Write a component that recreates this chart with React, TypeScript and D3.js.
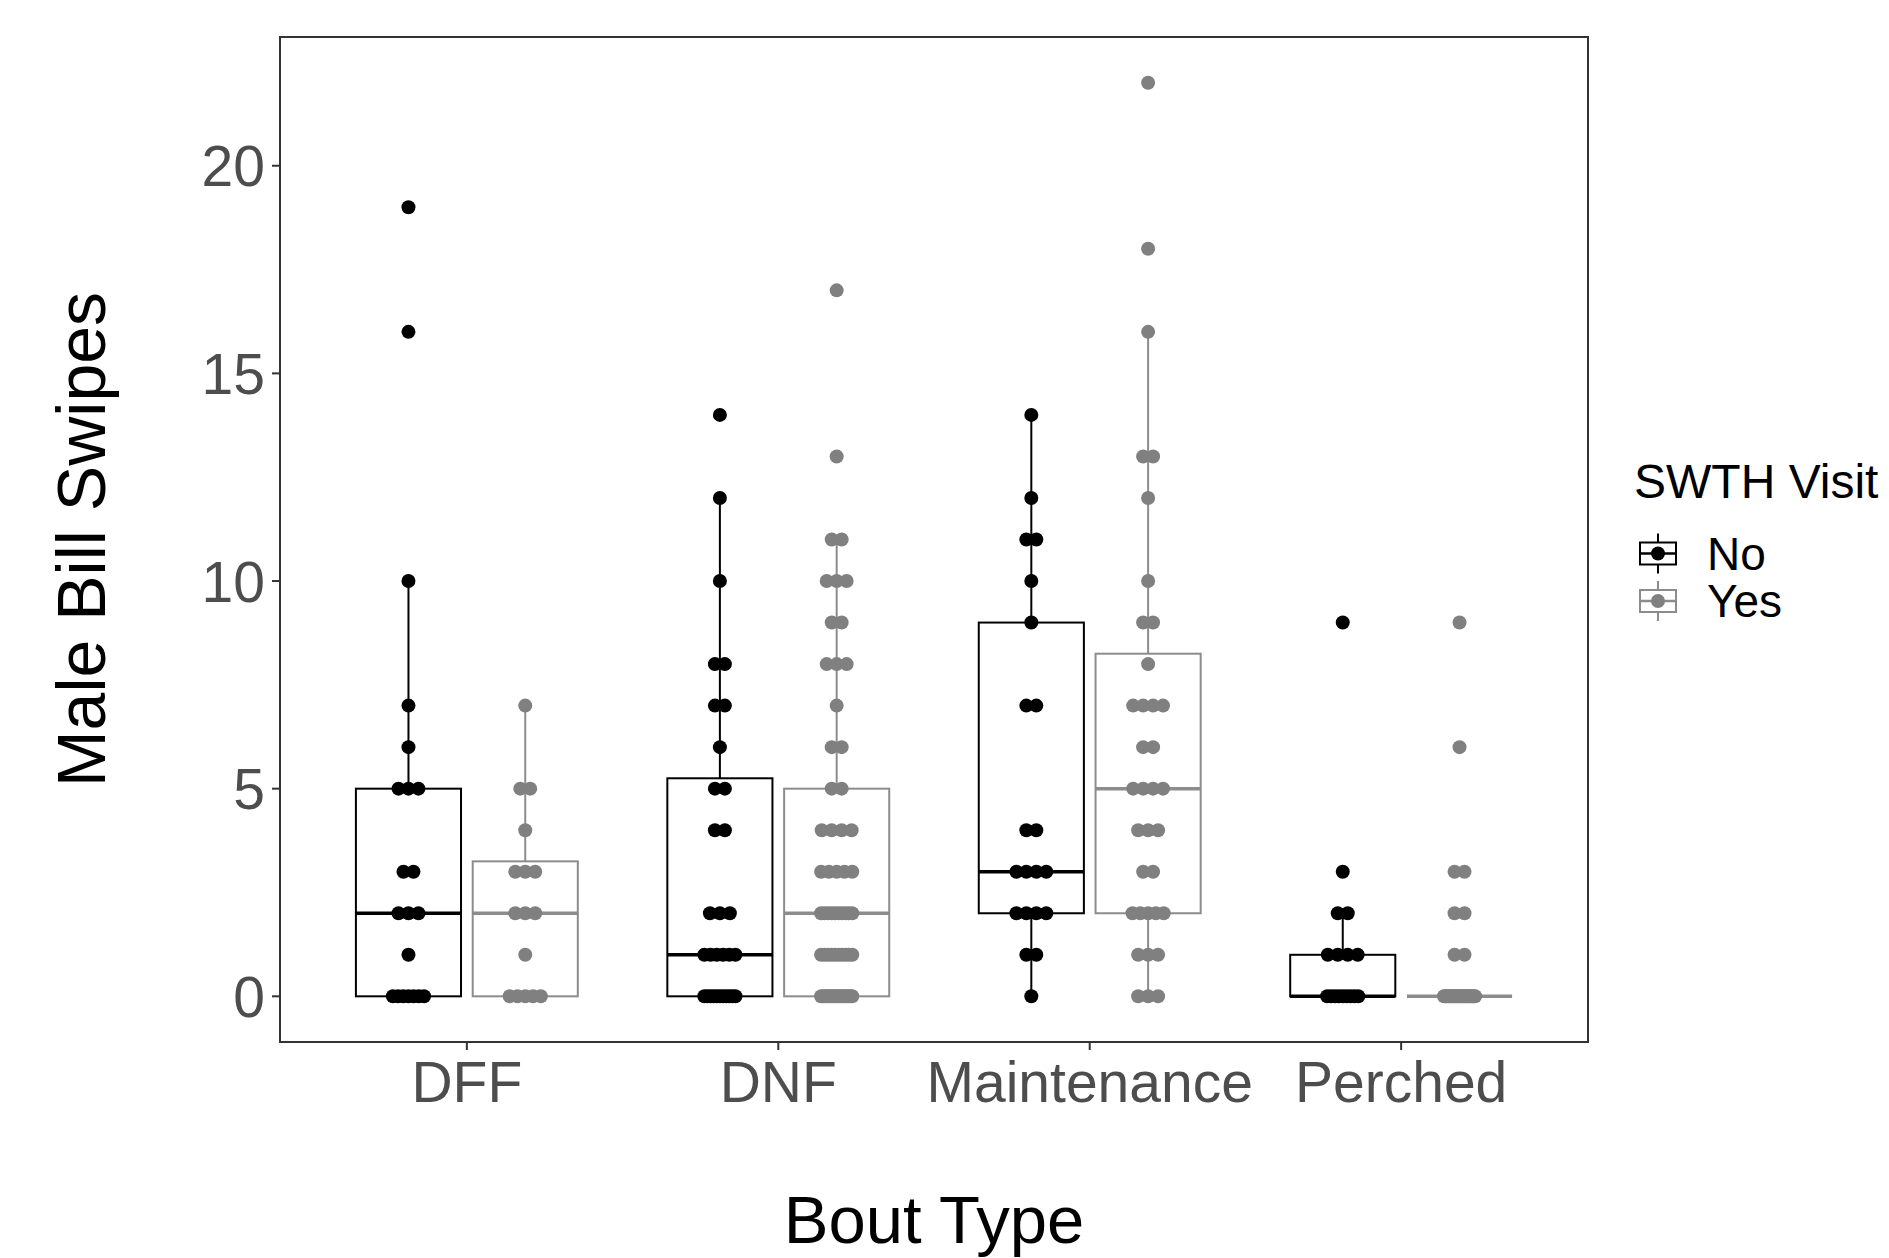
import React from "react";
import * as d3 from "d3";

// Male bill swipes per bout, split by whether a SWTH visited
const categories = ["DFF", "DNF", "Maintenance", "Perched"];
const visits = ["No", "Yes"];
const yTicks = [0, 5, 10, 15, 20];

const dffNo = [0, 0, 0, 0, 0, 0, 0, 1, 2, 2, 2, 3, 3, 5, 5, 5, 6, 7, 10, 16, 19];
const dffYes = [0, 0, 0, 0, 0, 1, 2, 2, 2, 3, 3, 3, 4, 5, 5, 7];
const dnfNo = [0, 0, 0, 0, 0, 0, 0, 0, 0, 0, 0, 1, 1, 1, 1, 1, 1, 2, 2, 2, 4, 4, 5, 5, 6, 7, 7, 8, 8, 10, 12, 14];
const dnfYes = [
  0, 0, 0, 0, 0, 0, 0, 0, 0, 0, 0, 0, 0, 0, 0, 0, 0, 0,
  1, 1, 1, 1, 1, 1, 1, 1, 1, 1,
  2, 2, 2, 2, 2, 2, 2, 2, 2, 2,
  3, 3, 3, 3, 3, 4, 4, 4, 4, 5, 5, 6, 6, 7, 8, 8, 8, 9, 9, 10, 10, 10, 11, 11, 13, 17,
];
const maintNo = [0, 1, 1, 2, 2, 2, 2, 3, 3, 3, 3, 4, 4, 7, 7, 9, 10, 11, 11, 12, 14];
const maintYes = [0, 0, 0, 1, 1, 1, 2, 2, 2, 2, 2, 3, 3, 4, 4, 4, 5, 5, 5, 5, 6, 6, 7, 7, 7, 7, 8, 9, 9, 10, 12, 13, 13, 16, 18, 22];
const perchNo = [0, 0, 0, 0, 0, 0, 0, 0, 0, 1, 1, 1, 1, 2, 2, 3, 9];
const perchYes = [
  0, 0, 0, 0, 0, 0, 0, 0, 0, 0, 0, 0, 0, 0, 0, 0, 0, 0, 0, 0, 0, 0, 0, 0, 0,
  1, 1, 2, 2, 3, 3, 6, 9,
];

const groupValues = [
  [dffNo, dffYes],
  [dnfNo, dnfYes],
  [maintNo, maintYes],
  [perchNo, perchYes],
];

const colors = ["#000000", "#808080"];
const boxColors = ["#000000", "#8c8c8c"];

const W = 1889;
const H = 1258;
const panel = { left: 280, right: 1588, top: 37, bottom: 1042 };
const font = "'Liberation Sans', Arial, sans-serif";

function boxStats(vals: number[]) {
  const s = [...vals].sort((a, b) => a - b);
  const q1 = d3.quantile(s, 0.25)!;
  const med = d3.quantile(s, 0.5)!;
  const q3 = d3.quantile(s, 0.75)!;
  const iqr = q3 - q1;
  const lo = d3.min(s.filter((v) => v >= q1 - 1.5 * iqr))!;
  const hi = d3.max(s.filter((v) => v <= q3 + 1.5 * iqr))!;
  return { q1, med, q3, lo, hi };
}

// spread repeated values sideways a little, like a light jitter
function spread(vals: number[]) {
  const counts = d3.rollup(vals, (v) => v.length, (d) => d);
  const seen = new Map<number, number>();
  return vals.map((v) => {
    const k = counts.get(v)!;
    const i = seen.get(v) || 0;
    seen.set(v, i + 1);
    if (k === 1) return 0;
    const s = Math.min(0.016 * (k - 1), 0.05);
    return -s + (2 * s * i) / (k - 1);
  });
}

export default function App() {
  const x = d3
    .scaleBand()
    .domain(categories)
    .range([panel.left, panel.right])
    .paddingInner(0)
    .paddingOuter(0.1);
  const step = x.step();
  const dodge = d3
    .scaleBand()
    .domain(visits)
    .range([-0.375 * step, 0.375 * step]);
  const boxW = dodge.bandwidth() * 0.9;

  const y = d3.scaleLinear().domain([-1.1, 23.1]).range([panel.bottom, panel.top]);

  const boxes: React.ReactNode[] = [];
  const points: React.ReactNode[] = [];

  categories.forEach((cat, ci) => {
    visits.forEach((vis, vi) => {
      const vals = groupValues[ci][vi];
      const cx = x(cat)! + step / 2 + dodge(vis)! + dodge.bandwidth() / 2;
      const st = boxStats(vals);
      const col = boxColors[vi];
      boxes.push(
        <g key={`b-${cat}-${vis}`} stroke={col} fill="none">
          <line x1={cx} x2={cx} y1={y(st.q3)} y2={y(st.hi)} strokeWidth={2} />
          <line x1={cx} x2={cx} y1={y(st.q1)} y2={y(st.lo)} strokeWidth={2} />
          <rect
            x={cx - boxW / 2}
            y={y(st.q3)}
            width={boxW}
            height={Math.max(0, y(st.q1) - y(st.q3))}
            fill="#ffffff"
            strokeWidth={2}
          />
          <line x1={cx - boxW / 2} x2={cx + boxW / 2} y1={y(st.med)} y2={y(st.med)} strokeWidth={3.5} />
        </g>
      );
      const offs = spread(vals);
      vals.forEach((v, i) => {
        points.push(
          <circle key={`p-${cat}-${vis}-${i}`} cx={cx + offs[i] * step} cy={y(v)} r={7} fill={colors[vi]} />
        );
      });
    });
  });

  return (
    <svg
      width={W}
      height={H}
      style={{ position: "absolute", left: 0, top: 0, background: "#ffffff" }}
      fontFamily={font}
    >
      <rect width={W} height={H} fill="#ffffff" />
      {boxes}
      {points}
      <rect
        x={panel.left}
        y={panel.top}
        width={panel.right - panel.left}
        height={panel.bottom - panel.top}
        fill="none"
        stroke="#333333"
        strokeWidth={2}
      />
      {/* y axis */}
      {yTicks.map((t) => (
        <g key={`yt-${t}`}>
          <line x1={panel.left - 8} x2={panel.left} y1={y(t)} y2={y(t)} stroke="#333333" strokeWidth={2} />
          <text x={panel.left - 15} y={y(t)} dy="0.36em" textAnchor="end" fontSize={57} fill="#4d4d4d">
            {t}
          </text>
        </g>
      ))}
      {/* x axis */}
      {categories.map((c) => {
        const cx = x(c)! + step / 2;
        return (
          <g key={`xt-${c}`}>
            <line x1={cx} x2={cx} y1={panel.bottom} y2={panel.bottom + 8} stroke="#333333" strokeWidth={2} />
            <text x={cx} y={panel.bottom + 60} textAnchor="middle" fontSize={57} fill="#4d4d4d">
              {c}
            </text>
          </g>
        );
      })}
      <text x={(panel.left + panel.right) / 2} y={1243} textAnchor="middle" fontSize={67} fill="#000000">
        Bout Type
      </text>
      <text
        transform={`translate(105, ${(panel.top + panel.bottom) / 2}) rotate(-90)`}
        textAnchor="middle"
        fontSize={68}
        fill="#000000"
      >
        Male Bill Swipes
      </text>
      {/* legend */}
      <text x={1634} y={498} fontSize={48} fill="#000000">
        SWTH Visit
      </text>
      {visits.map((v, i) => {
        const cy = 553.5 + i * 47.5;
        const kx = 1658;
        return (
          <g key={`lg-${v}`}>
            <line x1={kx} x2={kx} y1={cy - 20} y2={cy + 20} stroke={boxColors[i]} strokeWidth={2} />
            <rect x={kx - 18} y={cy - 11} width={36} height={22} fill="#ffffff" stroke={boxColors[i]} strokeWidth={2} />
            <line x1={kx - 18} x2={kx + 18} y1={cy} y2={cy} stroke={boxColors[i]} strokeWidth={2.5} />
            <circle cx={kx} cy={cy} r={7} fill={colors[i]} />
            <text x={1707} y={cy + 16} fontSize={46} fill="#000000">
              {v}
            </text>
          </g>
        );
      })}
    </svg>
  );
}
